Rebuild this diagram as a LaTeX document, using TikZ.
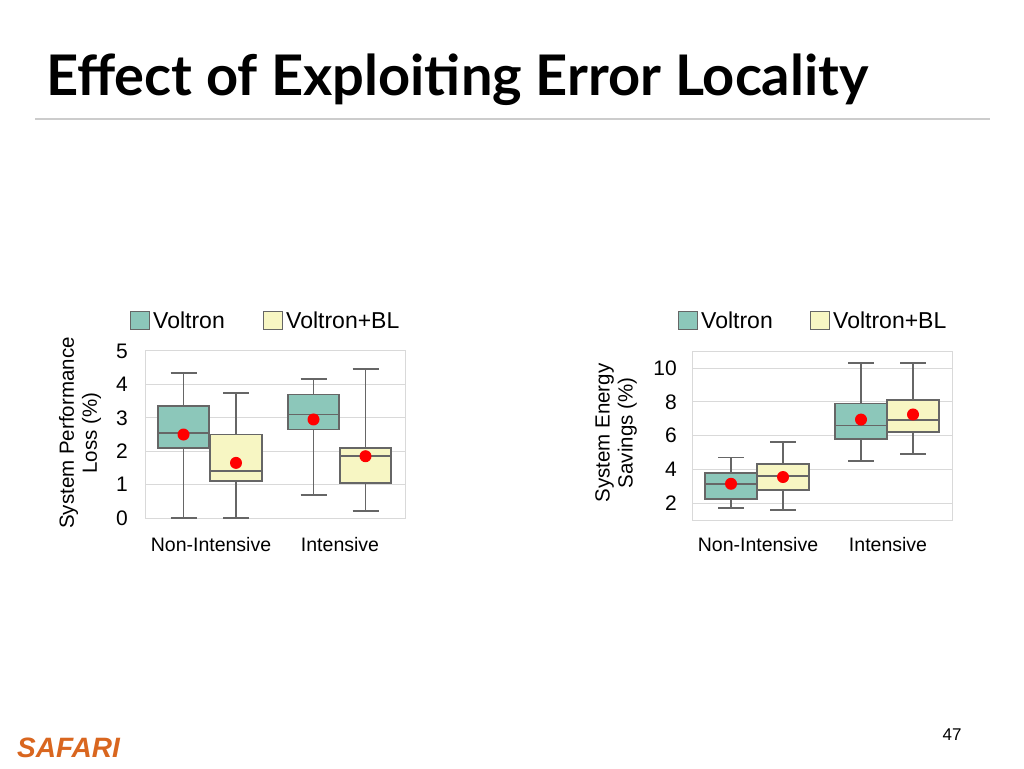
\documentclass[tikz,border=0pt]{standalone}
\usepackage{fontspec}
\setmainfont{Liberation Sans}
\newfontfamily\titlefont{Lato}
\usetikzlibrary{positioning}
\definecolor{voltron}{HTML}{8CC7BA}
\definecolor{voltronbl}{HTML}{F7F6C3}
\definecolor{edge}{HTML}{666666}
\definecolor{safari}{HTML}{D9661F}
% #1 left x, #2 right x, #3 low whisker, #4 q1, #5 median, #6 q3, #7 high whisker, #8 mean, #9 fill
\newcommand\drawbox[9]{%
  \draw[whisker] ({(#1+#2)/2},#3) -- ({(#1+#2)/2},#4);
  \draw[whisker] ({(#1+#2)/2},#6) -- ({(#1+#2)/2},#7);
  \draw[whisker] ({(#1+#2)/2-13},#3) -- ({(#1+#2)/2+13},#3);
  \draw[whisker] ({(#1+#2)/2-13},#7) -- ({(#1+#2)/2+13},#7);
  \draw[boxpart, fill=#9] (#1,#4) rectangle (#2,#6);
  \draw[boxpart] (#1,#5) -- (#2,#5);
  \fill[red] ({(#1+#2)/2},#8) circle (6pt);
}
\begin{document}
\begin{tikzpicture}[x=1pt, y=-1pt,
	whisker/.style={draw=edge, line width=1.8pt},
	boxpart/.style={draw=edge, line width=1.8pt},
	grid/.style={draw=gray!30, line width=1pt},
	legbox/.style={draw=edge, line width=1pt, minimum width=19pt, minimum height=18pt, inner sep=0pt},
	lab/.style={font=\fontsize{19.5}{21}\selectfont, inner sep=0pt},
	leg/.style={font=\fontsize{23}{24}\selectfont, inner sep=0pt},
	tick/.style={font=\fontsize{21}{22}\selectfont, inner sep=0pt, anchor=east},
	]
	\useasboundingbox (0,0) rectangle (1024,768);
	\fill[white] (0,0) rectangle (1024,768);
	%Title
	\node[anchor=base west, inner sep=0pt, font=\titlefont\bfseries\fontsize{56}{60}\selectfont] (title) at (46,95) {Effect of Exploiting Error Locality};
	\draw[gray!40, line width=1.5pt] (35,119) -- (990,119);
	\node[anchor=base west, inner sep=0pt, text=safari, font=\bfseries\itshape\fontsize{28}{30}\selectfont] (safari) at (17,757) {SAFARI};
	\node[anchor=base, inner sep=0pt, font=\fontsize{17}{18}\selectfont] (page) at (952,740) {47};
	%
	%Left chart: performance loss
	\begin{scope}[shift={(0,518)}, y={(0pt,33.4pt)}]
		\foreach \v in {1,...,4} \draw[grid] (145,\v) -- (405,\v);
		\draw[grid] (145,0) rectangle (405,5.02);
		\foreach \v in {0,...,5} \node[tick] at (128,\v) {\v};
		\drawbox{158}{209}{0}{2.1}{2.55}{3.35}{4.35}{2.5}{voltron}
		\drawbox{210}{262}{0}{1.1}{1.4}{2.5}{3.75}{1.65}{voltronbl}
		\drawbox{288}{339}{0.7}{2.65}{3.1}{3.7}{4.15}{2.95}{voltron}
		\drawbox{340}{391}{0.2}{1.05}{1.85}{2.1}{4.45}{1.85}{voltronbl}
	\end{scope}
	\node[legbox, fill=voltron] (lv) at (140,320) {};
	\node[leg, anchor=west, right=3pt of lv] (lvt) {Voltron};
	\node[legbox, fill=voltronbl] (lb) at (273,320) {};
	\node[leg, anchor=west, right=3pt of lb] (lbt) {Voltron+BL};
	\node[lab] (lni) at (211,545) {Non-Intensive};
	\node[lab] (li) at (340,545) {Intensive};
	\node[lab, rotate=90, align=center, font=\fontsize{20.5}{23}\selectfont] (ly) at (80,433) {System Performance\\Loss (\%)};
	%
	%Right chart: energy savings
	\begin{scope}[shift={(0,537)}, y={(0pt,16.9pt)}]
		\foreach \v in {2,4,...,10} \draw[grid] (692,\v) -- (952,\v);
		\draw[grid] (692,1.0) rectangle (952,11);
		\foreach \v in {2,4,...,10} \node[tick] at (677,\v) {\v};
		\drawbox{705}{757}{1.7}{2.25}{3.15}{3.8}{4.7}{3.15}{voltron}
		\drawbox{757}{809}{1.6}{2.8}{3.6}{4.3}{5.6}{3.55}{voltronbl}
		\drawbox{835}{887}{4.5}{5.8}{6.6}{7.9}{10.3}{6.95}{voltron}
		\drawbox{887}{939}{4.9}{6.2}{6.9}{8.1}{10.3}{7.25}{voltronbl}
	\end{scope}
	\node[legbox, fill=voltron] (rv) at (688,320) {};
	\node[leg, anchor=west, right=3pt of rv] (rvt) {Voltron};
	\node[legbox, fill=voltronbl] (rb) at (820,320) {};
	\node[leg, anchor=west, right=3pt of rb] (rbt) {Voltron+BL};
	\node[lab] (rni) at (758,545) {Non-Intensive};
	\node[lab] (ri) at (888,545) {Intensive};
	\node[lab, rotate=90, align=center, font=\fontsize{20.5}{23}\selectfont] (ry) at (616,433) {System Energy\\Savings (\%)};
\end{tikzpicture}
\end{document}
